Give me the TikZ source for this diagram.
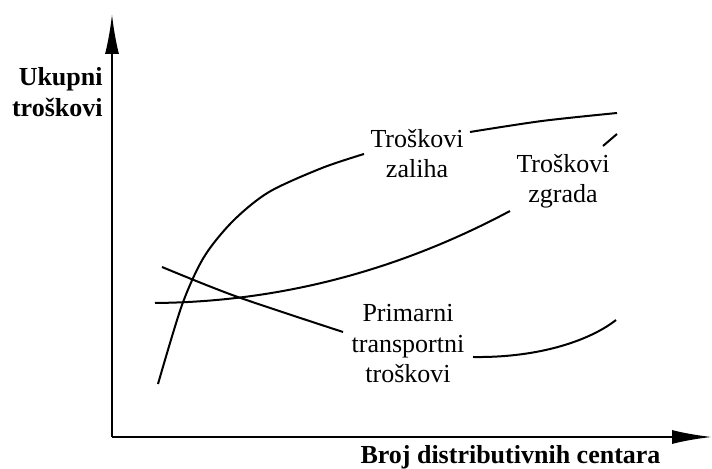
\documentclass[tikz,border=0pt]{standalone}
\usepackage{fontspec}
\setmainfont{Liberation Serif}
\usepackage{tikz}
\usetikzlibrary{arrows.meta}

\begin{document}
\begin{tikzpicture}[x=0.5pt,y=0.5pt,
  axis/.style={black, line width=1.1pt, -{Latex[length=20pt,width=7pt]}},
  curve/.style={black, line width=1pt},
  lbl/.style={font=\fontsize{13}{15.3}\selectfont, align=center, inner sep=0pt},
  blbl/.style={font=\fontsize{13}{15.5}\selectfont\bfseries, inner sep=0pt}]
\useasboundingbox (-112,-32) rectangle (600,437);
\coordinate (O) at (0,0);
\coordinate (ytip) at (0,423);
\coordinate (xtip) at (600,0);
\draw[axis] (O) -- (ytip);
\draw[axis] (O) -- (xtip);
\node[blbl, align=right, anchor=base east] (ylabel) at (-9,320) {Ukupni\\troškovi};
\node[blbl, anchor=base] (xlabel) at (398.5,-27) {Broj distributivnih centara};
% troskovi zaliha
\draw[curve] plot[smooth] coordinates {(46,53) (70,132) (92,180) (121,216) (157,245) (210,269) (252,283)};
\draw[curve] plot[smooth] coordinates {(358,305) (430,316) (505,324)};
% troskovi zgrada
\draw[curve] (43,134) .. controls (161,135) and (280,163) .. (398,226);
\draw[curve] (491,291) -- (505,303);
% primarni transportni troskovi
\draw[curve] plot[smooth] coordinates {(50,170) (123,141) (231,105)};
\draw[curve] (361,80) .. controls (430,79) and (480,98) .. (504,117);
\node[lbl, anchor=base] (zaliha) at (305,259) {Troškovi\\zaliha};
\node[lbl, anchor=base] (zgrada) at (451,234) {Troškovi\\zgrada};
\node[lbl, anchor=base] (primarni) at (296,54) {Primarni\\transportni\\troškovi};
\end{tikzpicture}
\end{document}
